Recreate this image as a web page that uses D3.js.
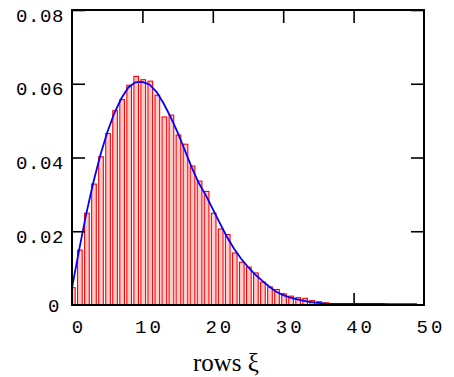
<!DOCTYPE html>
<html>
<head>
<meta charset="utf-8">
<script src="https://cdn.jsdelivr.net/npm/d3@7/dist/d3.min.js"></script>
<style>
  html, body { margin: 0; padding: 0; background: #fff; }
  svg { display: block; }
</style>
</head>
<body>
<svg id="chart" width="454" height="377"></svg>
<script>
// ---- data ----
const binIndex = d3.range(0, 50);
const binHeights = [
  0.0047, 0.0149, 0.0249, 0.0328, 0.0402, 0.0465, 0.0527, 0.0557, 0.0596, 0.0620,
  0.0611, 0.0607, 0.0569, 0.0510, 0.0515, 0.0461, 0.0436, 0.0377, 0.0336, 0.0308,
  0.0249, 0.0206, 0.0191, 0.0141, 0.0116, 0.0103, 0.0087, 0.0062, 0.0049, 0.0042,
  0.0030, 0.0024, 0.0020, 0.0018, 0.0012, 0.0009, 0.0006, 0.0004, 0.0003, 0.0002,
  0.0002, 0.0001, 0.0001, 0.0001, 0.0001, 0.0001, 0.0000, 0.0001, 0.0000, 0.0000
];
const curveX = d3.range(0, 50);
const curveValues = [
  0.0046, 0.0148, 0.0245, 0.0330, 0.0405, 0.0468, 0.0520, 0.0560, 0.0590, 0.0604,
  0.0605, 0.0598, 0.0578, 0.0547, 0.0510, 0.0468, 0.0421, 0.0373, 0.0331, 0.0298,
  0.0260, 0.0222, 0.0185, 0.0153, 0.0126, 0.0103, 0.0083, 0.0066, 0.0050, 0.0036,
  0.0027, 0.0020, 0.0015, 0.0011, 0.0008, 0.0006, 0.0004, 0.0003, 0.0003, 0.0003,
  0.0003, 0.0003, 0.0003, 0.0003, 0.0003, 0.0002, 0.0002, 0.0002, 0.0002, 0.0002
];
const xTickValues = [0, 10, 20, 30, 40, 50];
const xInnerTicks = [10, 20, 30, 40];
const yTickValues = [0, 0.02, 0.04, 0.06, 0.08];
const yInnerTicks = [0.02, 0.04, 0.06, 0.08];
const xTitle = "rows \u03BE";

// ---- layout ----
const L = 72, R = 424, T = 10, B = 305;
const svg = d3.select("#chart");
const x = d3.scaleLinear().domain([0, 50]).range([L, R]);
const y = d3.scaleLinear().domain([0, 0.08]).range([B, T]);
const monoFont = "'Liberation Mono', 'Courier New', monospace";

svg.append("defs").append("clipPath").attr("id", "plotclip")
  .append("rect").attr("x", L).attr("y", T).attr("width", R - L).attr("height", B - T);

// bottom inner ticks (under bars)
svg.append("g").attr("transform", `translate(0,${B})`)
  .call(d3.axisBottom(x).tickValues(xInnerTicks).tickSize(-12).tickFormat(""))
  .call(g => g.select(".domain").remove())
  .call(g => g.selectAll("line").attr("stroke", "#000").attr("stroke-width", 1.6));

// bars
const barOffset = 0.12, barWidth = 0.66;
svg.append("g").attr("clip-path", "url(#plotclip)")
  .selectAll("rect").data(binIndex).join("rect")
  .attr("x", i => x(i + barOffset - barWidth / 2))
  .attr("width", i => x(i + barOffset + barWidth / 2) - x(i + barOffset - barWidth / 2))
  .attr("y", i => y(binHeights[i]))
  .attr("height", i => B - y(binHeights[i]))
  .attr("fill", "#ffcccc")
  .attr("stroke", "#ff0000")
  .attr("stroke-width", 1.1);

// curve
svg.append("path")
  .datum(curveX)
  .attr("fill", "none")
  .attr("stroke", "#0000ff")
  .attr("stroke-width", 1.8)
  .attr("d", d3.line().x(i => x(i)).y(i => y(curveValues[i])));

// frame
svg.append("rect")
  .attr("x", L).attr("y", T).attr("width", R - L).attr("height", B - T)
  .attr("fill", "none").attr("stroke", "#000").attr("stroke-width", 2);

// top inner ticks
svg.append("g").attr("transform", `translate(0,${T})`)
  .call(d3.axisTop(x).tickValues(xInnerTicks).tickSize(-13).tickFormat(""))
  .call(g => g.select(".domain").remove())
  .call(g => g.selectAll("line").attr("stroke", "#000").attr("stroke-width", 1.6));

// right inner ticks
svg.append("g").attr("transform", `translate(${R},0)`)
  .call(d3.axisRight(y).tickValues(yInnerTicks).tickSize(-13).tickFormat(""))
  .call(g => g.select(".domain").remove())
  .call(g => g.selectAll("line").attr("stroke", "#000").attr("stroke-width", 1.6));

// left axis with labels
const fmtY = d => d === 0 ? "0" : d3.format(".2f")(d);
svg.append("g").attr("transform", `translate(${L},0)`)
  .call(d3.axisLeft(y).tickValues(yTickValues).tickSize(-13).tickPadding(8).tickFormat(fmtY))
  .call(g => g.select(".domain").remove())
  .call(g => g.selectAll("line").attr("stroke", "#000").attr("stroke-width", 1.6)
                .attr("display", d => d === 0 ? "none" : null))
  .call(g => g.selectAll("text")
      .attr("font-family", monoFont).attr("font-size", 19)
      .attr("letter-spacing", 0.6).attr("fill", "#000")
      .attr("x", d => d === 0 ? -12 : -8)
      .attr("dy", d => d === 0 ? "0.36em" : "0.58em"));

// bottom labels
svg.append("g").attr("transform", `translate(0,${B})`)
  .call(d3.axisBottom(x).tickValues(xTickValues).tickSize(0).tickFormat(d3.format("d")))
  .call(g => g.select(".domain").remove())
  .call(g => g.selectAll("text")
      .attr("font-family", monoFont).attr("font-size", 19)
      .attr("letter-spacing", 3).attr("fill", "#000")
      .attr("y", 28).attr("dy", 0).attr("dx", 6.5));

// x title
svg.append("text")
  .attr("x", 226).attr("y", 371)
  .attr("text-anchor", "middle")
  .attr("font-family", "'Liberation Serif', 'Times New Roman', serif")
  .attr("font-size", 25)
  .attr("fill", "#000")
  .text(xTitle);
</script>
</body>
</html>
